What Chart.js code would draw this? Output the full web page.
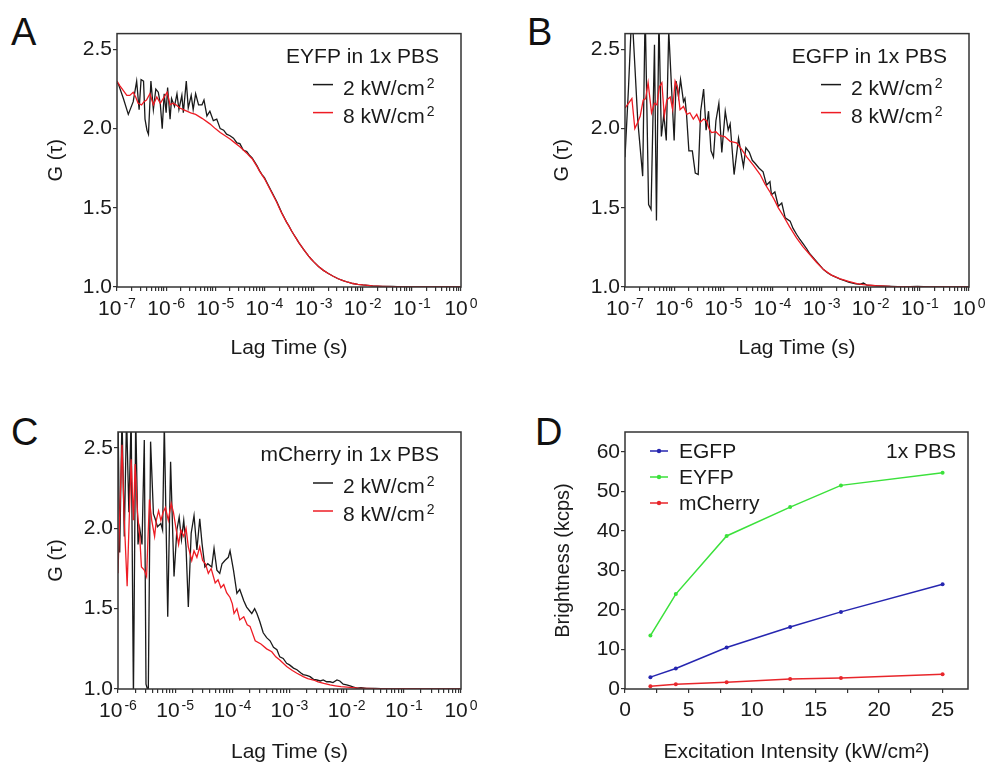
<!DOCTYPE html>
<html>
<head>
<meta charset="utf-8">
<script src="https://cdn.jsdelivr.net/npm/chart.js@4.4.1/dist/chart.umd.min.js"></script>
<style>
  body { margin: 0; background: #fff; width: 985px; height: 765px; position: relative; overflow: hidden;
         font-family: "Liberation Sans", Arial, sans-serif; }
  canvas { position: absolute; }
  .tag { position: absolute; font-size: 38px; line-height: 38px; color: #111; }
</style>
</head>
<body>
<div class="tag" style="left:11px;top:13px">A</div>
<div class="tag" style="left:527px;top:13px">B</div>
<div class="tag" style="left:11px;top:413px">C</div>
<div class="tag" style="left:535px;top:413px">D</div>

<canvas id="chartA" width="455" height="345" style="left:30px;top:20px"></canvas>
<canvas id="chartB" width="470" height="345" style="left:515px;top:20px"></canvas>
<canvas id="chartC" width="455" height="365" style="left:30px;top:400px"></canvas>
<canvas id="chartD" width="470" height="365" style="left:515px;top:400px"></canvas>

<script>
// [log10(lag time / s), G(tau)]
const eyfpLow = [[-7.00,2.29],[-6.97,2.28],[-6.87,2.19],[-6.77,2.09],[-6.67,2.17],[-6.60,2.30],[-6.55,2.12],[-6.51,2.31],[-6.46,2.30],[-6.43,2.06],[-6.39,1.99],[-6.36,1.965],[-6.31,2.30],[-6.26,2.12],[-6.21,2.25],[-6.16,2.23],[-6.12,2.16],[-6.08,2.00],[-6.04,2.22],[-6.00,2.10],[-5.97,2.26],[-5.92,2.06],[-5.89,2.19],[-5.83,2.14],[-5.78,2.22],[-5.74,2.12],[-5.68,2.21],[-5.65,2.10],[-5.59,2.30],[-5.55,2.13],[-5.49,2.21],[-5.45,2.12],[-5.40,2.22],[-5.34,2.15],[-5.27,2.15],[-5.23,2.18],[-5.17,2.08],[-5.11,2.11],[-5.04,2.05],[-4.97,2.06],[-4.90,2.00],[-4.83,1.99],[-4.77,1.965],[-4.70,1.955],[-4.63,1.94],[-4.56,1.91],[-4.50,1.905],[-4.43,1.865],[-4.36,1.855],[-4.30,1.83],[-4.25,1.815],[-4.20,1.79],[-4.15,1.765],[-4.10,1.735],[-4.05,1.71],[-4.00,1.69],[-3.95,1.66],[-3.90,1.63],[-3.85,1.60],[-3.80,1.57],[-3.75,1.54],[-3.70,1.505],[-3.65,1.47],[-3.60,1.44],[-3.55,1.41],[-3.50,1.385],[-3.45,1.355],[-3.40,1.33],[-3.35,1.305],[-3.30,1.28],[-3.25,1.258],[-3.20,1.236],[-3.15,1.215],[-3.10,1.195],[-3.05,1.177],[-3.00,1.16],[-2.90,1.13],[-2.80,1.105],[-2.70,1.085],[-2.60,1.068],[-2.50,1.052],[-2.40,1.04],[-2.30,1.03],[-2.20,1.022],[-2.10,1.017],[-2.00,1.013],[-1.90,1.01],[-1.80,1.007],[-1.60,1.004],[-1.40,1.003],[-1.20,1.001],[-1.00,1.0],[-0.50,1.0],[0.00,1.0]];
const eyfpHigh = [[-7.00,2.30],[-6.94,2.27],[-6.87,2.24],[-6.80,2.21],[-6.74,2.21],[-6.67,2.23],[-6.62,2.20],[-6.57,2.16],[-6.50,2.15],[-6.45,2.17],[-6.40,2.18],[-6.33,2.22],[-6.26,2.15],[-6.19,2.20],[-6.12,2.16],[-6.06,2.19],[-5.98,2.23],[-5.92,2.15],[-5.86,2.16],[-5.80,2.15],[-5.72,2.13],[-5.65,2.12],[-5.58,2.11],[-5.50,2.10],[-5.40,2.09],[-5.27,2.065],[-5.11,2.03],[-5.00,2.00],[-4.90,1.975],[-4.80,1.955],[-4.70,1.935],[-4.60,1.91],[-4.50,1.885],[-4.43,1.865],[-4.36,1.845],[-4.30,1.825],[-4.25,1.81],[-4.20,1.785],[-4.15,1.76],[-4.10,1.732],[-4.05,1.708],[-4.00,1.685],[-3.95,1.655],[-3.90,1.625],[-3.85,1.595],[-3.80,1.565],[-3.75,1.535],[-3.70,1.50],[-3.65,1.468],[-3.60,1.438],[-3.55,1.41],[-3.50,1.383],[-3.45,1.355],[-3.40,1.33],[-3.35,1.305],[-3.30,1.28],[-3.25,1.258],[-3.20,1.236],[-3.15,1.215],[-3.10,1.195],[-3.05,1.177],[-3.00,1.16],[-2.90,1.13],[-2.80,1.105],[-2.70,1.085],[-2.60,1.068],[-2.50,1.052],[-2.40,1.04],[-2.30,1.03],[-2.20,1.022],[-2.10,1.017],[-2.00,1.013],[-1.90,1.01],[-1.80,1.007],[-1.60,1.004],[-1.40,1.002],[-1.20,1.001],[-1.00,1.0],[-0.50,1.0],[0.00,1.0]];

const egfpLow = [[-7.00,1.82],[-6.93,2.25],[-6.86,2.75],[-6.80,2.40],[-6.74,2.05],[-6.64,1.70],[-6.59,2.75],[-6.52,1.52],[-6.47,1.49],[-6.40,2.53],[-6.36,1.42],[-6.31,2.70],[-6.26,1.95],[-6.21,2.09],[-6.16,1.925],[-6.11,2.62],[-6.05,2.24],[-6.00,1.925],[-5.96,2.30],[-5.91,2.20],[-5.87,2.31],[-5.81,2.17],[-5.78,2.19],[-5.75,2.10],[-5.70,1.86],[-5.63,1.86],[-5.57,1.72],[-5.51,1.71],[-5.46,2.11],[-5.40,2.25],[-5.35,1.99],[-5.30,2.11],[-5.25,1.86],[-5.20,1.82],[-5.15,2.05],[-5.09,2.16],[-5.03,1.85],[-4.96,2.11],[-4.90,1.99],[-4.86,2.03],[-4.78,1.71],[-4.69,1.94],[-4.64,1.85],[-4.59,1.76],[-4.54,1.88],[-4.47,1.85],[-4.41,1.80],[-4.35,1.78],[-4.27,1.75],[-4.19,1.727],[-4.12,1.644],[-4.05,1.665],[-4.02,1.582],[-3.95,1.60],[-3.88,1.51],[-3.81,1.53],[-3.74,1.437],[-3.64,1.416],[-3.58,1.37],[-3.51,1.333],[-3.44,1.30],[-3.37,1.27],[-3.30,1.24],[-3.24,1.21],[-3.17,1.185],[-3.10,1.16],[-3.03,1.135],[-2.96,1.11],[-2.88,1.09],[-2.80,1.075],[-2.71,1.062],[-2.62,1.05],[-2.53,1.04],[-2.45,1.03],[-2.37,1.025],[-2.30,1.02],[-2.22,1.017],[-2.15,1.025],[-2.08,1.012],[-2.00,1.01],[-1.85,1.007],[-1.70,1.005],[-1.45,1.003],[-1.20,1.002],[-1.05,1.004],[-0.80,1.0],[-0.50,1.0],[0.00,1.0]];
const egfpHigh = [[-7.00,2.13],[-6.93,2.16],[-6.86,2.19],[-6.80,2.00],[-6.74,2.04],[-6.69,2.08],[-6.63,2.18],[-6.58,2.19],[-6.53,2.29],[-6.46,2.10],[-6.40,2.16],[-6.35,2.15],[-6.30,2.265],[-6.25,2.29],[-6.20,2.08],[-6.15,2.18],[-6.08,2.20],[-6.03,2.12],[-5.98,2.30],[-5.93,2.26],[-5.88,2.12],[-5.81,2.14],[-5.74,2.09],[-5.68,2.10],[-5.61,2.06],[-5.54,2.09],[-5.47,2.04],[-5.40,2.06],[-5.34,2.05],[-5.29,2.00],[-5.24,1.975],[-5.15,1.98],[-5.07,1.955],[-4.97,1.95],[-4.86,1.92],[-4.73,1.91],[-4.63,1.87],[-4.52,1.82],[-4.39,1.77],[-4.25,1.71],[-4.15,1.65],[-4.05,1.60],[-3.96,1.55],[-3.88,1.50],[-3.78,1.45],[-3.65,1.38],[-3.51,1.31],[-3.38,1.255],[-3.24,1.205],[-3.10,1.155],[-2.96,1.11],[-2.80,1.075],[-2.62,1.052],[-2.45,1.035],[-2.28,1.022],[-2.15,1.015],[-1.90,1.008],[-1.60,1.004],[-1.00,1.001],[-0.50,1.0],[0.00,1.0]];

const mcherryLow = [[-6.00,2.70],[-5.97,1.85],[-5.93,2.70],[-5.89,1.95],[-5.85,2.70],[-5.81,2.10],[-5.77,2.70],[-5.73,0.95],[-5.69,2.70],[-5.65,1.90],[-5.62,2.00],[-5.58,1.90],[-5.54,2.55],[-5.51,1.03],[-5.47,0.98],[-5.43,2.54],[-5.38,2.09],[-5.35,2.06],[-5.31,2.01],[-5.25,2.03],[-5.22,1.99],[-5.19,2.65],[-5.13,1.45],[-5.08,2.415],[-5.02,1.70],[-4.97,1.99],[-4.93,2.07],[-4.89,1.93],[-4.85,2.05],[-4.81,1.885],[-4.77,1.51],[-4.72,1.97],[-4.67,2.08],[-4.62,1.865],[-4.57,2.06],[-4.53,1.905],[-4.48,1.76],[-4.43,1.78],[-4.36,1.76],[-4.32,1.875],[-4.27,1.74],[-4.22,1.72],[-4.18,1.78],[-4.13,1.80],[-4.07,1.82],[-4.04,1.86],[-3.98,1.74],[-3.92,1.595],[-3.87,1.62],[-3.80,1.55],[-3.75,1.51],[-3.66,1.47],[-3.61,1.50],[-3.57,1.47],[-3.52,1.42],[-3.46,1.35],[-3.40,1.32],[-3.34,1.30],[-3.28,1.26],[-3.22,1.245],[-3.17,1.20],[-3.11,1.19],[-3.05,1.16],[-3.00,1.15],[-2.93,1.13],[-2.87,1.12],[-2.80,1.10],[-2.76,1.09],[-2.70,1.085],[-2.64,1.077],[-2.58,1.06],[-2.52,1.056],[-2.46,1.05],[-2.41,1.056],[-2.35,1.045],[-2.29,1.045],[-2.24,1.04],[-2.17,1.056],[-2.12,1.05],[-2.06,1.03],[-2.00,1.025],[-1.94,1.019],[-1.88,1.012],[-1.82,1.005],[-1.75,1.008],[-1.65,1.004],[-1.50,1.003],[-1.30,1.0],[-1.00,1.001],[-0.50,1.0],[0.00,1.0]];
const mcherryHigh = [[-6.00,1.72],[-5.96,2.20],[-5.93,2.52],[-5.89,2.05],[-5.84,1.64],[-5.80,2.10],[-5.77,2.43],[-5.73,2.05],[-5.70,2.40],[-5.66,2.10],[-5.62,1.95],[-5.59,1.76],[-5.54,1.74],[-5.50,1.70],[-5.45,2.18],[-5.41,2.05],[-5.36,1.95],[-5.33,2.05],[-5.29,2.11],[-5.25,2.05],[-5.21,2.10],[-5.17,2.13],[-5.12,2.05],[-5.07,2.155],[-5.03,2.10],[-4.99,2.01],[-4.94,1.90],[-4.90,1.99],[-4.85,1.95],[-4.81,2.00],[-4.77,1.885],[-4.71,1.80],[-4.67,1.86],[-4.62,1.82],[-4.57,1.885],[-4.52,1.80],[-4.47,1.78],[-4.42,1.72],[-4.37,1.75],[-4.30,1.66],[-4.25,1.68],[-4.20,1.63],[-4.15,1.65],[-4.10,1.60],[-4.04,1.57],[-4.00,1.53],[-3.97,1.47],[-3.92,1.50],[-3.87,1.43],[-3.80,1.45],[-3.74,1.40],[-3.69,1.39],[-3.60,1.30],[-3.50,1.28],[-3.40,1.25],[-3.31,1.232],[-3.24,1.20],[-3.17,1.18],[-3.05,1.14],[-2.95,1.115],[-2.87,1.098],[-2.76,1.077],[-2.68,1.065],[-2.58,1.056],[-2.50,1.045],[-2.40,1.035],[-2.29,1.025],[-2.20,1.02],[-2.10,1.015],[-1.94,1.01],[-1.80,1.006],[-1.65,1.004],[-1.50,1.002],[-1.20,1.0],[-1.00,1.002],[-0.50,1.0],[0.00,1.0]];

// panel D
const intensity = [2, 4, 8, 13, 17, 25];
const egfpBright = [3.0, 5.2, 10.5, 15.7, 19.5, 26.5];
const eyfpBright = [13.5, 24.0, 38.7, 46.0, 51.5, 54.7];
const mcherryBright = [0.7, 1.2, 1.7, 2.5, 2.8, 3.7];

// axis ticks: decade exponents, drawn as 10 with a raised exponent
const decades7 = ['-7', '-6', '-5', '-4', '-3', '-2', '-1', '0'];
const decades6 = ['-6', '-5', '-4', '-3', '-2', '-1', '0'];
const gTicks = [1.0, 1.5, 2.0, 2.5];
const brightTicks = [0, 10, 20, 30, 40, 50, 60];
const intensityTicks = [0, 5, 10, 15, 20, 25];

const FONT = '"Liberation Sans", Arial, sans-serif';
Chart.defaults.font.family = FONT;
Chart.defaults.color = '#1a1a1a';

function toPoints(pairs) {
  return pairs.map(p => ({ x: Math.pow(10, p[0]), y: p[1] }));
}

function logTicks(decades) {
  const out = [];
  decades.forEach((d, i) => {
    const e = Number(d);
    out.push({ value: Math.pow(10, e) });
    if (i < decades.length - 1) {
      for (let k = 2; k <= 9; k++) out.push({ value: k * Math.pow(10, e) });
    }
  });
  return out;
}

// text with a raised part, e.g. "10" + "-7" or "2 kW/cm" + "2"
function supText(ctx, base, sup, x, baseline, align) {
  ctx.font = '21px ' + FONT;
  const w1 = ctx.measureText(base).width;
  ctx.font = '14px ' + FONT;
  const w2 = ctx.measureText(sup).width;
  const gap = 2;
  const total = w1 + gap + w2;
  let x0 = x;
  if (align === 'center') x0 = x - total / 2;
  if (align === 'right') x0 = x - total;
  ctx.textAlign = 'left';
  ctx.textBaseline = 'alphabetic';
  ctx.font = '21px ' + FONT;
  ctx.fillText(base, x0, baseline);
  ctx.font = '14px ' + FONT;
  ctx.fillText(sup, x0 + w1 + gap, baseline - 7);
}

// frame around the plot area, decade labels and in-plot legend
const panelLegend = {
  id: 'panelLegend',
  afterDraw(chart, args, opts) {
    const { ctx, chartArea: a } = chart;
    ctx.save();
    ctx.strokeStyle = '#333';
    ctx.lineWidth = 1.5;
    ctx.strokeRect(a.left, a.top, a.right - a.left, a.bottom - a.top);

    ctx.fillStyle = '#1a1a1a';
    const ds = chart.data.datasets;
    if (opts.mode === 'fcs') {
      const sx = chart.scales.x;
      opts.decades.forEach(d => {
        supText(ctx, '10', d, sx.getPixelForValue(Math.pow(10, Number(d))), a.bottom + 28, 'center');
      });

      ctx.font = '21px ' + FONT;
      ctx.textBaseline = 'alphabetic';
      ctx.textAlign = 'right';
      ctx.fillText(opts.title, a.right - 22, a.top + 29);
      ds.forEach((d, i) => {
        const y = a.top + 51 + i * 28;
        ctx.strokeStyle = d.borderColor;
        ctx.lineWidth = 1.5;
        ctx.beginPath();
        ctx.moveTo(a.right - 148, y);
        ctx.lineTo(a.right - 128, y);
        ctx.stroke();
        const parts = d.label.split('^');
        supText(ctx, parts[0], parts[1], a.right - 118, y + 10, 'left');
      });
    } else {
      ctx.font = '21px ' + FONT;
      ctx.textBaseline = 'middle';
      ctx.textAlign = 'right';
      ctx.fillText(opts.title, a.right - 12, a.top + 20);
      ds.forEach((d, i) => {
        const y = a.top + 19 + i * 26;
        ctx.strokeStyle = d.borderColor;
        ctx.fillStyle = d.borderColor;
        ctx.lineWidth = 1.5;
        ctx.beginPath();
        ctx.moveTo(a.left + 25, y);
        ctx.lineTo(a.left + 43, y);
        ctx.stroke();
        ctx.beginPath();
        ctx.arc(a.left + 34, y, 2.2, 0, Math.PI * 2);
        ctx.fill();
        ctx.fillStyle = '#1a1a1a';
        ctx.textAlign = 'left';
        ctx.fillText(d.label, a.left + 54, y + 1);
      });
    }
    ctx.restore();
  }
};

const tickGrid = { drawOnChartArea: false, drawTicks: true, tickLength: 4, color: '#333', lineWidth: 1.2 };

function fcsChart(id, low, high, decades, title, lay) {
  return new Chart(document.getElementById(id), {
    type: 'line',
    data: {
      datasets: [
        { label: '2 kW/cm^2', data: toPoints(low), borderColor: '#1a1a1a', order: 2 },
        { label: '8 kW/cm^2', data: toPoints(high), borderColor: '#ee1c24', order: 1 }
      ]
    },
    options: {
      responsive: false,
      animation: false,
      events: [],
      layout: { padding: { top: lay.top, right: lay.right, left: 0, bottom: 0 } },
      elements: { point: { radius: 0 }, line: { borderWidth: 1.3, tension: 0 } },
      plugins: { legend: { display: false }, tooltip: { enabled: false },
                 panelLegend: { mode: 'fcs', title: title, decades: decades } },
      scales: {
        x: {
          type: 'logarithmic',
          min: Math.pow(10, Number(decades[0])),
          max: Math.pow(10, Number(decades[decades.length - 1])),
          afterBuildTicks: s => { s.ticks = logTicks(decades); },
          afterFit: s => { s.height = lay.xH; },
          border: { display: false },
          grid: tickGrid,
          ticks: { autoSkip: false, maxRotation: 0, callback: () => '' },
          title: { display: true, text: 'Lag Time (s)', font: { size: 21 },
                   padding: { top: 0, bottom: lay.xTitle } }
        },
        y: {
          min: 1, max: 2.6,
          afterBuildTicks: s => { s.ticks = gTicks.map(v => ({ value: v })); },
          afterFit: s => { s.width = lay.yW; },
          border: { display: false },
          grid: tickGrid,
          ticks: { padding: 1, font: { size: 21 }, callback: v => v.toFixed(1) },
          title: { display: true, text: 'G (τ)', font: { size: 20 },
                   padding: { top: lay.yTitle, bottom: 0 } }
        }
      }
    },
    plugins: [panelLegend]
  });
}

fcsChart('chartA', eyfpLow, eyfpHigh, decades7, 'EYFP in 1x PBS',
  { top: 11, right: 24, xH: 78, yW: 87, xTitle: 4, yTitle: 14 });
fcsChart('chartB', egfpLow, egfpHigh, decades7, 'EGFP in 1x PBS',
  { top: 11, right: 16, xH: 78, yW: 110, xTitle: 4, yTitle: 35 });
fcsChart('chartC', mcherryLow, mcherryHigh, decades6, 'mCherry in 1x PBS',
  { top: 32, right: 24, xH: 76, yW: 88, xTitle: 0, yTitle: 14 });

function brightSet(label, values, color) {
  return {
    label: label,
    data: intensity.map((x, i) => ({ x: x, y: values[i] })),
    borderColor: color, backgroundColor: color, pointBackgroundColor: color,
    pointBorderColor: color, pointRadius: 2, pointBorderWidth: 0, borderWidth: 1.5, tension: 0
  };
}

new Chart(document.getElementById('chartD'), {
  type: 'line',
  data: {
    datasets: [
      brightSet('EGFP', egfpBright, '#2626b0'),
      brightSet('EYFP', eyfpBright, '#3be13b'),
      brightSet('mCherry', mcherryBright, '#e8262b')
    ]
  },
  options: {
    responsive: false,
    animation: false,
    events: [],
    layout: { padding: { top: 32, right: 17, left: 0, bottom: 0 } },
    plugins: { legend: { display: false }, tooltip: { enabled: false },
               panelLegend: { mode: 'bright', title: '1x PBS' } },
    scales: {
      x: {
        type: 'linear', min: 0, max: 27,
        afterBuildTicks: s => {
          const t = [];
          intensityTicks.forEach((v, i) => {
            t.push({ value: v });
            if (i < intensityTicks.length - 1) t.push({ value: v + 2.5 });
          });
          s.ticks = t;
        },
        afterFit: s => { s.height = 76; },
        border: { display: false },
        grid: tickGrid,
        ticks: { autoSkip: false, maxRotation: 0, padding: 5, font: { size: 21 },
                 callback: v => intensityTicks.includes(v) ? String(v) : '' },
        title: { display: true, text: 'Excitation Intensity (kW/cm²)', font: { size: 21 },
                 padding: { top: 0, bottom: 0 } }
      },
      y: {
        min: 0, max: 65,
        afterBuildTicks: s => {
          const t = [];
          brightTicks.forEach((v, i) => {
            t.push({ value: v });
            if (i < brightTicks.length - 1) t.push({ value: v + 5 });
          });
          s.ticks = t;
        },
        afterFit: s => { s.width = 110; },
        border: { display: false },
        grid: tickGrid,
        ticks: { padding: 1, font: { size: 21 },
                 callback: v => brightTicks.includes(v) ? String(v) : '' },
        title: { display: true, text: 'Brightness (kcps)', font: { size: 20 },
                 padding: { top: 36, bottom: 0 } }
      }
    }
  },
  plugins: [panelLegend]
});
</script>
</body>
</html>
